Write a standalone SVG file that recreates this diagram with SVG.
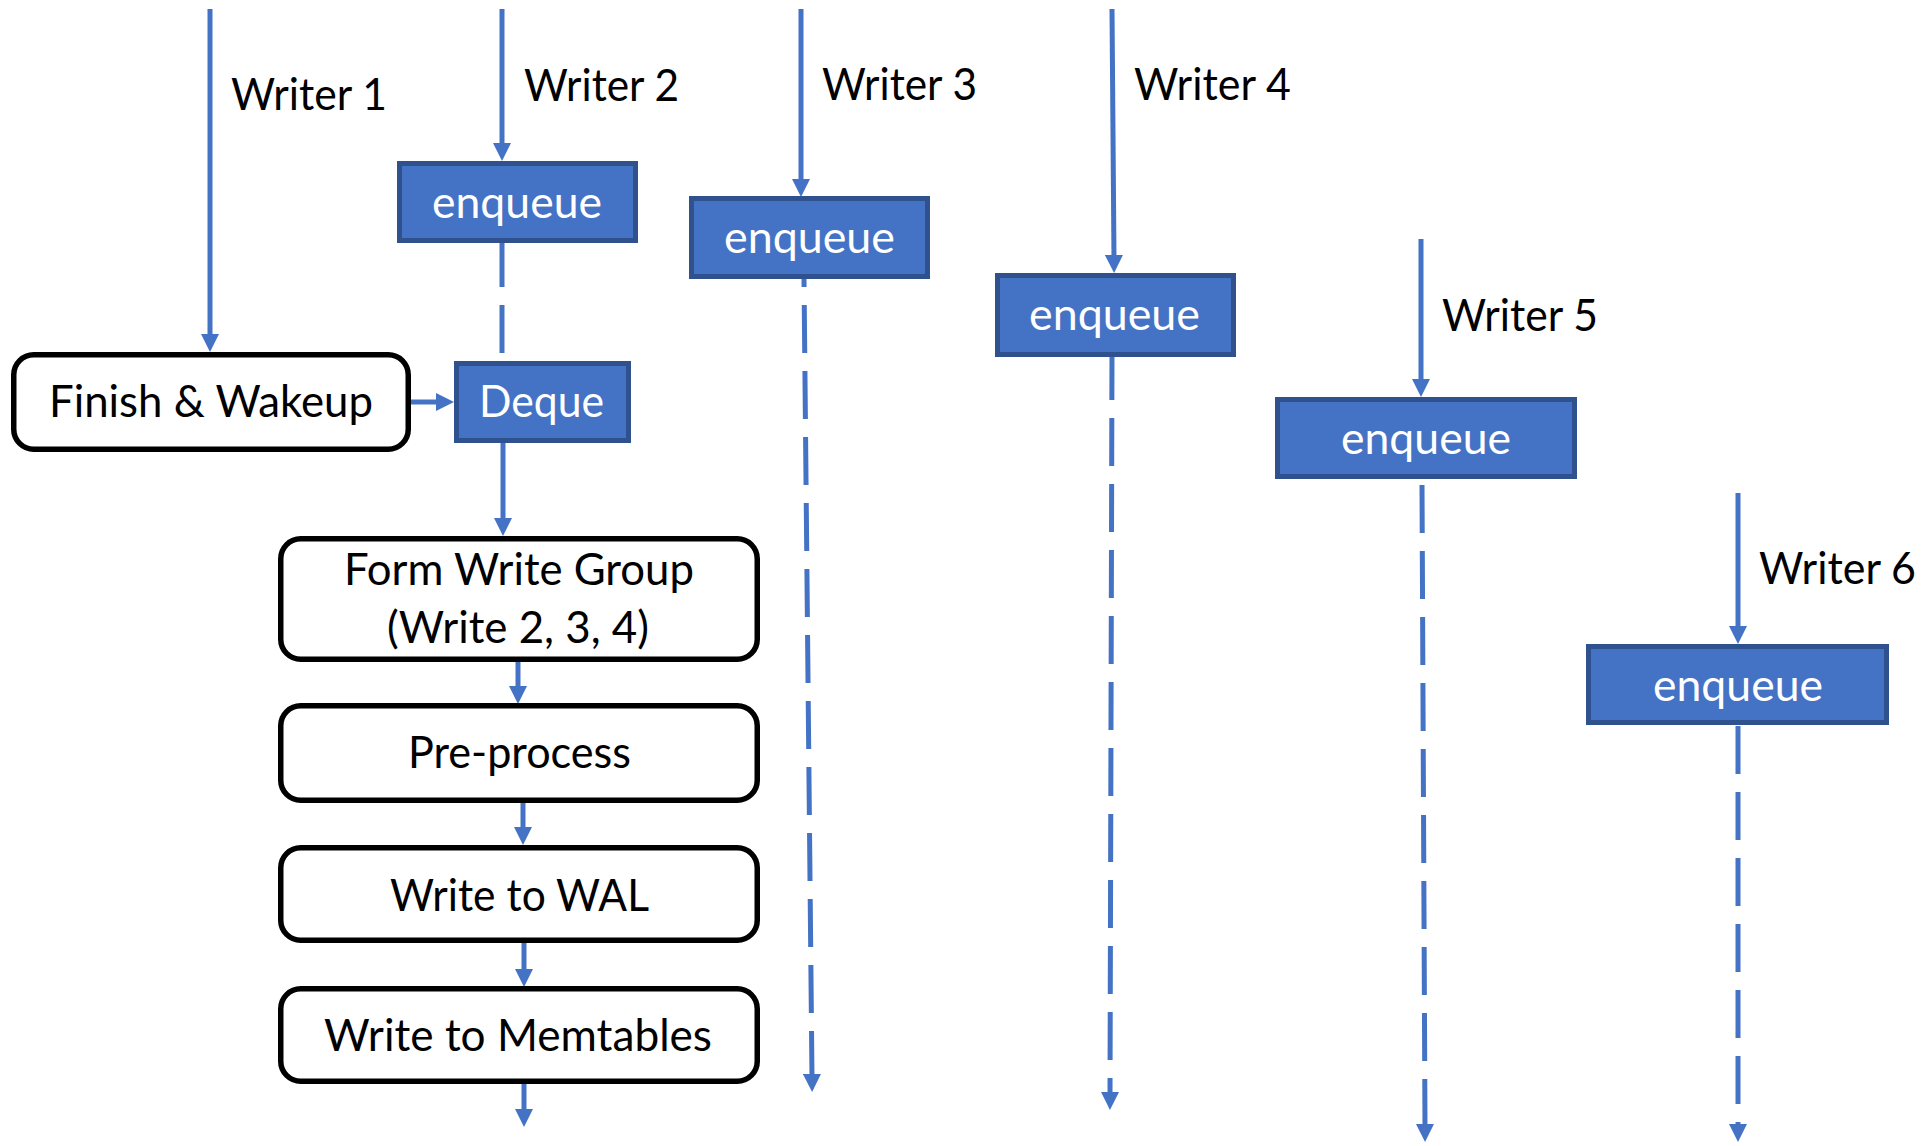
<svg xmlns="http://www.w3.org/2000/svg" width="1926" height="1146" viewBox="0 0 1926 1146">
  <style>
    text { font-family: Lato, "Open Sans", "Liberation Sans", sans-serif; font-size: 44px; }
    .label { fill: #000000; }
    .step { fill: #ffffff; stroke: #000000; stroke-width: 5.5; }
    .queue { fill: #4472C4; stroke: #2F528F; stroke-width: 5; }
    .queue-text { fill: #ffffff; text-anchor: middle; }
    .step-text { fill: #000000; text-anchor: middle; }
    .flow { fill: none; stroke: #4472C4; stroke-width: 5; marker-end: url(#head); }
    .wait { fill: none; stroke: #4472C4; stroke-width: 5; stroke-dasharray: 48 18; marker-end: url(#head); }
    .wait-plain { fill: none; stroke: #4472C4; stroke-width: 5; stroke-dasharray: 48 18; }
  </style>
  <defs>
    <marker id="head" markerUnits="userSpaceOnUse" markerWidth="18" markerHeight="18" viewBox="0 0 18 18" refX="4" refY="9" orient="auto">
      <path d="M0,0 L18,9 L0,18 z" fill="#4472C4"/>
    </marker>
  </defs>

  <rect width="1926" height="1146" fill="#ffffff"/>

  <!-- connectors -->
  <g id="connectors">
    <!-- writer threads arriving -->
    <line class="flow" x1="210" y1="9" x2="210" y2="338"/>
    <line class="flow" x1="502" y1="9" x2="502" y2="147"/>
    <line class="flow" x1="801" y1="9" x2="801" y2="183"/>
    <line class="flow" x1="1112" y1="9" x2="1114" y2="259"/>
    <line class="flow" x1="1421" y1="239" x2="1421" y2="383"/>
    <line class="flow" x1="1738" y1="493" x2="1738" y2="630"/>

    <!-- waiting in the queue -->
    <line class="wait-plain" x1="502" y1="239" x2="502" y2="361"/>
    <line class="wait" x1="803.6" y1="239" x2="812" y2="1078"/>
    <line class="wait" x1="1112" y1="352" x2="1110" y2="1096"/>
    <line class="wait" x1="1422" y1="485" x2="1425" y2="1128"/>
    <line class="wait" x1="1738" y1="726" x2="1738" y2="1128"/>

    <!-- leader path -->
    <line class="flow" x1="411" y1="402" x2="440" y2="402"/>
    <line class="flow" x1="503" y1="441" x2="503" y2="522"/>
    <line class="flow" x1="518" y1="661" x2="518" y2="690"/>
    <line class="flow" x1="523" y1="803" x2="523" y2="831"/>
    <line class="flow" x1="524" y1="943" x2="524" y2="973"/>
    <line class="flow" x1="524" y1="1084" x2="524" y2="1113"/>
  </g>

  <!-- writer labels -->
  <g id="labels">
    <text class="label" x="231" y="110" textLength="156" lengthAdjust="spacingAndGlyphs">Writer 1</text>
    <text class="label" x="524" y="101" textLength="155" lengthAdjust="spacingAndGlyphs">Writer 2</text>
    <text class="label" x="822" y="100" textLength="155" lengthAdjust="spacingAndGlyphs">Writer 3</text>
    <text class="label" x="1134" y="100" textLength="157" lengthAdjust="spacingAndGlyphs">Writer 4</text>
    <text class="label" x="1442" y="331" textLength="156" lengthAdjust="spacingAndGlyphs">Writer 5</text>
    <text class="label" x="1759" y="584" textLength="157" lengthAdjust="spacingAndGlyphs">Writer 6</text>
  </g>

  <!-- queue nodes -->
  <g id="enqueue-w2">
    <rect class="queue" x="399.5" y="163.5" width="236" height="77"/>
    <text class="queue-text" x="517" y="218" textLength="170" lengthAdjust="spacingAndGlyphs">enqueue</text>
  </g>
  <g id="enqueue-w3">
    <rect class="queue" x="691.5" y="198.5" width="236" height="78"/>
    <text class="queue-text" x="809.5" y="253" textLength="171" lengthAdjust="spacingAndGlyphs">enqueue</text>
  </g>
  <g id="enqueue-w4">
    <rect class="queue" x="997.5" y="275.5" width="236" height="79"/>
    <text class="queue-text" x="1114.5" y="330" textLength="171" lengthAdjust="spacingAndGlyphs">enqueue</text>
  </g>
  <g id="enqueue-w5">
    <rect class="queue" x="1277.5" y="399.5" width="297" height="77"/>
    <text class="queue-text" x="1426" y="454" textLength="170" lengthAdjust="spacingAndGlyphs">enqueue</text>
  </g>
  <g id="enqueue-w6">
    <rect class="queue" x="1588.5" y="646.5" width="298" height="76"/>
    <text class="queue-text" x="1738" y="701" textLength="170" lengthAdjust="spacingAndGlyphs">enqueue</text>
  </g>
  <g id="deque">
    <rect class="queue" x="456.5" y="363.5" width="172" height="77"/>
    <text class="queue-text" x="541.5" y="417" textLength="125" lengthAdjust="spacingAndGlyphs">Deque</text>
  </g>

  <!-- leader steps -->
  <g id="finish-wakeup">
    <rect class="step" x="13.75" y="354.75" width="394.5" height="94.5" rx="20"/>
    <text class="step-text" x="211" y="417" textLength="324" lengthAdjust="spacingAndGlyphs">Finish &amp; Wakeup</text>
  </g>
  <g id="form-write-group">
    <rect class="step" x="280.75" y="538.75" width="476.5" height="120.5" rx="20"/>
    <text class="step-text" x="519" y="585" textLength="350" lengthAdjust="spacingAndGlyphs">Form Write Group</text>
    <text class="step-text" x="518" y="643" textLength="262" lengthAdjust="spacingAndGlyphs">(Write 2, 3, 4)</text>
  </g>
  <g id="pre-process">
    <rect class="step" x="280.75" y="705.75" width="476.5" height="94.5" rx="20"/>
    <text class="step-text" x="519.5" y="768" textLength="223" lengthAdjust="spacingAndGlyphs">Pre-process</text>
  </g>
  <g id="write-wal">
    <rect class="step" x="280.75" y="847.75" width="476.5" height="92.5" rx="20"/>
    <text class="step-text" x="519.5" y="911" textLength="259" lengthAdjust="spacingAndGlyphs">Write to WAL</text>
  </g>
  <g id="write-memtables">
    <rect class="step" x="280.75" y="988.75" width="476.5" height="92.5" rx="20"/>
    <text class="step-text" x="518" y="1051" textLength="388" lengthAdjust="spacingAndGlyphs">Write to Memtables</text>
  </g>
</svg>
